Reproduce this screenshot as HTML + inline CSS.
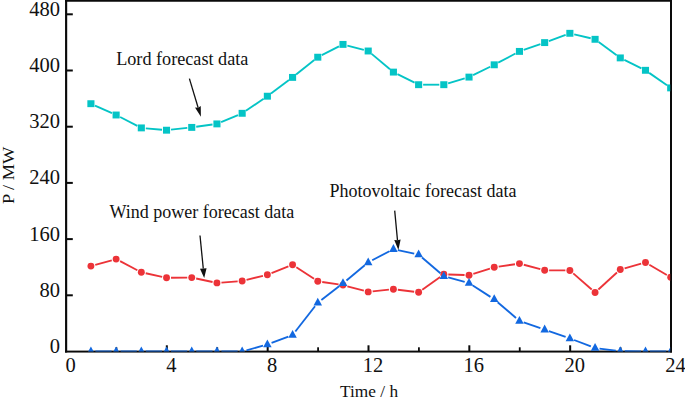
<!DOCTYPE html><html><head><meta charset="utf-8"><title>chart</title><style>
html,body{margin:0;padding:0;background:#fff;}
body{width:685px;height:398px;position:relative;overflow:hidden;font-family:"Liberation Serif",serif;color:#111;}
.t{position:absolute;white-space:nowrap;line-height:1;}
.yl{font-size:20.5px;width:60.0px;text-align:right;left:0;}
.xl{font-size:20.5px;width:60px;text-align:center;}
.lab{font-size:18px;}
</style></head><body>
<svg width="685" height="398" viewBox="0 0 685 398" style="position:absolute;left:0;top:0"><defs><clipPath id="cp"><rect x="60" y="0" width="610.2" height="351.5"/></clipPath></defs><g fill="#0a0a0a"><rect x="65" y="0" width="607" height="1.75"/><rect x="65" y="350.6" width="607" height="1.95"/><rect x="65.05" y="0" width="2.15" height="352.5"/><rect x="670" y="0" width="2" height="352.5"/><rect x="67" y="294.30" width="5.8" height="2"/><rect x="67" y="238.10" width="5.8" height="2"/><rect x="67" y="181.90" width="5.8" height="2"/><rect x="67" y="125.70" width="5.8" height="2"/><rect x="67" y="69.50" width="5.8" height="2"/><rect x="67" y="13.30" width="5.8" height="2"/><rect x="115.52" y="347.3" width="1.8" height="4"/><rect x="165.83" y="345.3" width="2" height="6"/><rect x="216.35" y="347.3" width="1.8" height="4"/><rect x="266.67" y="345.3" width="2" height="6"/><rect x="317.18" y="347.3" width="1.8" height="4"/><rect x="367.50" y="345.3" width="2" height="6"/><rect x="418.02" y="347.3" width="1.8" height="4"/><rect x="468.33" y="345.3" width="2" height="6"/><rect x="518.85" y="347.3" width="1.8" height="4"/><rect x="569.17" y="345.3" width="2" height="6"/><rect x="619.68" y="347.3" width="1.8" height="4"/></g><g clip-path="url(#cp)"><g stroke="#ec3338" stroke-width="1.85" stroke-linecap="butt"><line x1="95.24" y1="264.90" x2="111.78" y2="260.30"/><line x1="120.10" y1="261.19" x2="137.34" y2="270.21"/><line x1="145.72" y1="273.26" x2="162.14" y2="276.84"/><line x1="171.03" y1="277.76" x2="187.24" y2="277.64"/><line x1="196.15" y1="278.53" x2="212.55" y2="281.97"/><line x1="221.44" y1="282.56" x2="237.67" y2="281.34"/><line x1="246.52" y1="279.91" x2="263.00" y2="275.79"/><line x1="271.55" y1="273.04" x2="288.39" y2="266.36"/><line x1="296.33" y1="267.17" x2="314.03" y2="278.83"/><line x1="322.23" y1="281.97" x2="338.54" y2="284.43"/><line x1="347.34" y1="286.27" x2="363.86" y2="290.73"/><line x1="372.67" y1="291.42" x2="388.93" y2="289.68"/><line x1="397.87" y1="289.75" x2="414.15" y2="291.75"/><line x1="422.28" y1="289.69" x2="440.16" y2="276.91"/><line x1="448.32" y1="274.46" x2="464.54" y2="275.04"/><line x1="473.32" y1="273.84" x2="489.95" y2="268.56"/><line x1="498.70" y1="266.56" x2="515.00" y2="264.24"/><line x1="523.80" y1="264.76" x2="540.31" y2="269.14"/><line x1="549.16" y1="270.33" x2="565.37" y2="270.42"/><line x1="573.25" y1="273.41" x2="591.69" y2="289.54"/><line x1="598.40" y1="289.47" x2="616.96" y2="272.53"/><line x1="624.62" y1="268.30" x2="641.16" y2="263.70"/><line x1="649.37" y1="264.78" x2="666.82" y2="275.02"/></g><g fill="#ec3338"><circle cx="90.91" cy="266.10" r="3.45"/><circle cx="116.12" cy="259.10" r="3.45"/><circle cx="141.32" cy="272.30" r="3.45"/><circle cx="166.53" cy="277.80" r="3.45"/><circle cx="191.74" cy="277.60" r="3.45"/><circle cx="216.95" cy="282.90" r="3.45"/><circle cx="242.16" cy="281.00" r="3.45"/><circle cx="267.37" cy="274.70" r="3.45"/><circle cx="292.57" cy="264.70" r="3.45"/><circle cx="317.78" cy="281.30" r="3.45"/><circle cx="342.99" cy="285.10" r="3.45"/><circle cx="368.20" cy="291.90" r="3.45"/><circle cx="393.41" cy="289.20" r="3.45"/><circle cx="418.62" cy="292.30" r="3.45"/><circle cx="443.82" cy="274.30" r="3.45"/><circle cx="469.03" cy="275.20" r="3.45"/><circle cx="494.24" cy="267.20" r="3.45"/><circle cx="519.45" cy="263.60" r="3.45"/><circle cx="544.66" cy="270.30" r="3.45"/><circle cx="569.87" cy="270.45" r="3.45"/><circle cx="595.08" cy="292.50" r="3.45"/><circle cx="620.28" cy="269.50" r="3.45"/><circle cx="645.49" cy="262.50" r="3.45"/><circle cx="670.70" cy="277.30" r="3.45"/></g><g stroke="#1268e0" stroke-width="1.85" stroke-linecap="butt"><line x1="95.41" y1="351.50" x2="111.62" y2="351.50"/><line x1="120.62" y1="351.50" x2="136.82" y2="351.50"/><line x1="145.82" y1="351.50" x2="162.03" y2="351.50"/><line x1="171.03" y1="351.50" x2="187.24" y2="351.50"/><line x1="196.24" y1="351.50" x2="212.45" y2="351.50"/><line x1="221.45" y1="351.50" x2="237.66" y2="351.50"/><line x1="246.49" y1="350.30" x2="263.03" y2="345.70"/><line x1="271.58" y1="342.91" x2="288.36" y2="336.59"/><line x1="295.34" y1="331.45" x2="315.01" y2="306.25"/><line x1="321.35" y1="299.96" x2="339.43" y2="286.04"/><line x1="346.46" y1="280.43" x2="364.74" y2="265.27"/><line x1="372.18" y1="260.30" x2="389.43" y2="251.20"/><line x1="397.81" y1="250.04" x2="414.22" y2="253.56"/><line x1="422.03" y1="257.44" x2="440.41" y2="273.26"/><line x1="448.17" y1="277.37" x2="464.69" y2="281.83"/><line x1="472.81" y1="285.44" x2="490.46" y2="296.86"/><line x1="497.66" y1="302.23" x2="516.03" y2="317.97"/><line x1="523.70" y1="322.37" x2="540.40" y2="328.13"/><line x1="548.91" y1="331.08" x2="565.62" y2="336.92"/><line x1="574.07" y1="340.00" x2="590.87" y2="346.40"/><line x1="599.54" y1="348.57" x2="615.82" y2="350.63"/><line x1="624.78" y1="351.25" x2="640.99" y2="351.45"/><line x1="649.99" y1="351.50" x2="666.20" y2="351.50"/></g><g fill="#1268e0"><polygon points="90.91,346.50 95.16,354.30 86.66,354.30"/><polygon points="116.12,346.50 120.37,354.30 111.87,354.30"/><polygon points="141.32,346.50 145.57,354.30 137.07,354.30"/><polygon points="166.53,346.50 170.78,354.30 162.28,354.30"/><polygon points="191.74,346.50 195.99,354.30 187.49,354.30"/><polygon points="216.95,346.50 221.20,354.30 212.70,354.30"/><polygon points="242.16,346.50 246.41,354.30 237.91,354.30"/><polygon points="267.37,339.50 271.62,347.30 263.12,347.30"/><polygon points="292.57,330.00 296.82,337.80 288.32,337.80"/><polygon points="317.78,297.70 322.03,305.50 313.53,305.50"/><polygon points="342.99,278.30 347.24,286.10 338.74,286.10"/><polygon points="368.20,257.40 372.45,265.20 363.95,265.20"/><polygon points="393.41,244.10 397.66,251.90 389.16,251.90"/><polygon points="418.62,249.50 422.87,257.30 414.37,257.30"/><polygon points="443.82,271.20 448.07,279.00 439.57,279.00"/><polygon points="469.03,278.00 473.28,285.80 464.78,285.80"/><polygon points="494.24,294.30 498.49,302.10 489.99,302.10"/><polygon points="519.45,315.90 523.70,323.70 515.20,323.70"/><polygon points="544.66,324.60 548.91,332.40 540.41,332.40"/><polygon points="569.87,333.40 574.12,341.20 565.62,341.20"/><polygon points="595.08,343.00 599.33,350.80 590.83,350.80"/><polygon points="620.28,346.20 624.53,354.00 616.03,354.00"/><polygon points="645.49,346.50 649.74,354.30 641.24,354.30"/><polygon points="670.70,346.50 674.95,354.30 666.45,354.30"/></g><g stroke="#04c4c6" stroke-width="1.85" stroke-linecap="butt"><line x1="95.01" y1="105.54" x2="112.01" y2="113.16"/><line x1="120.12" y1="117.05" x2="137.32" y2="125.85"/><line x1="145.81" y1="128.31" x2="162.05" y2="129.79"/><line x1="171.01" y1="129.70" x2="187.27" y2="127.90"/><line x1="196.20" y1="126.78" x2="212.49" y2="124.52"/><line x1="221.10" y1="122.16" x2="238.01" y2="115.04"/><line x1="245.88" y1="110.77" x2="263.64" y2="98.73"/><line x1="270.97" y1="93.51" x2="288.97" y2="80.09"/><line x1="296.09" y1="74.59" x2="314.27" y2="60.01"/><line x1="321.80" y1="55.16" x2="338.98" y2="46.44"/><line x1="347.34" y1="45.54" x2="363.85" y2="49.86"/><line x1="371.65" y1="53.89" x2="389.96" y2="69.21"/><line x1="397.43" y1="74.11" x2="414.59" y2="82.69"/><line x1="423.12" y1="84.70" x2="439.32" y2="84.70"/><line x1="448.13" y1="83.40" x2="464.72" y2="78.40"/><line x1="473.08" y1="75.13" x2="490.20" y2="66.77"/><line x1="498.22" y1="62.69" x2="515.48" y2="53.51"/><line x1="523.70" y1="49.92" x2="540.41" y2="44.08"/><line x1="548.88" y1="41.04" x2="565.64" y2="34.86"/><line x1="574.24" y1="34.34" x2="590.70" y2="38.26"/><line x1="598.70" y1="41.97" x2="616.66" y2="55.23"/><line x1="624.32" y1="59.89" x2="641.45" y2="68.31"/><line x1="649.18" y1="72.88" x2="667.01" y2="85.32"/></g><g fill="#04c4c6"><rect x="87.36" y="100.25" width="7.1" height="6.9"/><rect x="112.57" y="111.55" width="7.1" height="6.9"/><rect x="137.77" y="124.45" width="7.1" height="6.9"/><rect x="162.98" y="126.75" width="7.1" height="6.9"/><rect x="188.19" y="123.95" width="7.1" height="6.9"/><rect x="213.40" y="120.45" width="7.1" height="6.9"/><rect x="238.61" y="109.85" width="7.1" height="6.9"/><rect x="263.82" y="92.75" width="7.1" height="6.9"/><rect x="289.02" y="73.95" width="7.1" height="6.9"/><rect x="314.23" y="53.75" width="7.1" height="6.9"/><rect x="339.44" y="40.95" width="7.1" height="6.9"/><rect x="364.65" y="47.55" width="7.1" height="6.9"/><rect x="389.86" y="68.65" width="7.1" height="6.9"/><rect x="415.07" y="81.25" width="7.1" height="6.9"/><rect x="440.27" y="81.25" width="7.1" height="6.9"/><rect x="465.48" y="73.65" width="7.1" height="6.9"/><rect x="490.69" y="61.35" width="7.1" height="6.9"/><rect x="515.90" y="47.95" width="7.1" height="6.9"/><rect x="541.11" y="39.15" width="7.1" height="6.9"/><rect x="566.32" y="29.85" width="7.1" height="6.9"/><rect x="591.53" y="35.85" width="7.1" height="6.9"/><rect x="616.73" y="54.45" width="7.1" height="6.9"/><rect x="641.94" y="66.85" width="7.1" height="6.9"/><rect x="667.15" y="84.45" width="7.1" height="6.9"/></g></g><line x1="189.40" y1="78.60" x2="198.16" y2="107.70" stroke="#111" stroke-width="1.3"/><polygon points="200.90,116.80 195.00,107.61 198.16,107.70 200.75,105.88" fill="#111"/><line x1="200.00" y1="235.50" x2="203.27" y2="268.55" stroke="#111" stroke-width="1.3"/><polygon points="204.20,277.90 199.99,268.87 203.27,268.55 206.56,268.22" fill="#111"/><line x1="394.70" y1="210.60" x2="397.50" y2="240.34" stroke="#111" stroke-width="1.3"/><polygon points="398.40,249.90 394.26,240.04 397.50,240.34 400.63,239.44" fill="#111"/></svg>
<div class="t yl" style="top:335.90px">0</div>
<div class="t yl" style="top:279.70px">80</div>
<div class="t yl" style="top:223.50px">160</div>
<div class="t yl" style="top:167.30px">240</div>
<div class="t yl" style="top:111.10px">320</div>
<div class="t yl" style="top:54.90px">400</div>
<div class="t yl" style="top:-1.30px">480</div>
<div class="t xl" style="left:40.50px;top:354.6px">0</div>
<div class="t xl" style="left:141.33px;top:354.6px">4</div>
<div class="t xl" style="left:242.17px;top:354.6px">8</div>
<div class="t xl" style="left:343.00px;top:354.6px">12</div>
<div class="t xl" style="left:443.83px;top:354.6px">16</div>
<div class="t xl" style="left:544.67px;top:354.6px">20</div>
<div class="t xl" style="left:645.50px;top:354.6px">24</div>
<div class="t lab" style="left:116.2px;top:49.5px;font-size:18.18px">Lord forecast data</div>
<div class="t lab" style="left:109.6px;top:203.4px">Wind power forecast data</div>
<div class="t lab" style="left:329.5px;top:182.2px">Photovoltaic forecast data</div>
<div class="t" style="font-size:17.3px;left:340.1px;top:382.7px">Time / h</div>
<div class="t lab" style="font-size:18.35px;left:0;top:0;transform-origin:0 0;transform:translate(0.16px,204.0px) rotate(-90deg) scale(1,0.95)">P / MW</div>
</body></html>
